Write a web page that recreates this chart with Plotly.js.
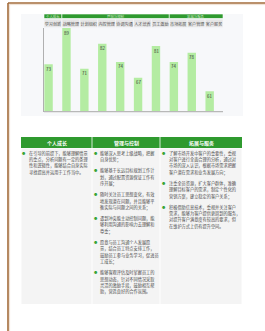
<!DOCTYPE html>
<html><head><meta charset="utf-8">
<script src="https://cdn.plot.ly/plotly-3.0.1.min.js"></script>
<style>html,body{margin:0;padding:0;background:#fff;}#chart{width:265px;height:331px;}</style>
</head><body><div id="chart"></div>
<script>
// ---- data ----
const categories = ['学习创新','战略管理','计划组织','内控管理','协调沟通','人才培养','员工激励','市场拓展','客户管理','客户服务'];
const scores = [73, 89, 71, 82, 74, 67, 81, 74, 78, 61];
const groupNames = ['个人成长','管理与控制','拓展与服务'];
const groupFirst = [0, 1, 7];
const groupLast = [0, 6, 9];
const tableHeads = ['个人成长','管理与控制','拓展与服务'];
const col1Items = [
  ['在引导的前提下，能够理解情景','的重点，分析问题有一定的条理','性和逻辑性，能够结合自身实际','寻找提高并运用于工作当中。']
];
const col2Items = [
  ['能够深入思考上级战略，把握','自身优势；'],
  ['能够基于长远目标规划工作计','划，通过配置资源保证工作有','序开展；'],
  ['随时关注员工思想变化，有效','地发现潜在问题，并且能够平','衡实际与问题之间的关系；'],
  ['遇到冲突能主动控制问题，能','够利用沟通的影响力去理解和','尊重；'],
  ['愿意与员工沟通个人发展愿','景，结合员工特点安排工作，','鼓励员工参与业务学习，促进员','工成长；'],
  ['能够客观评估及时掌握员工的','思想动态，针对不同情况采取','灵活的激励手段，鼓励相互帮','助，营造良好的合作氛围。']
];
const col3Items = [
  ['了解市场开发中客户的重要性，重视','对客户进行全面合理的分析，通过对','市场的深入认识，根据市场需求把握','客户潜在需求和业务发展方向；'],
  ['注重全员资源，扩大客户群体，准确','理解目标客户的需求，制定个性化的','营销方案，建立稳定的客户关系；'],
  ['积极借助信息技术，重视并关注客户','需求，能够为客户提供更周到的服务，','对提升客户满意度有较高的要求，但','在维护方式上仍有提升空间。']
];

// ---- layout helpers ----
const W = 265, H = 331;
const FONT = 'Noto Sans CJK SC, Noto Sans, sans-serif';
const px = x => x / W;
const py = y => 1 - y / H;
const D0 = 44, D1 = 223;
const slot = k => D0 + (k + 0.5) / categories.length * (D1 - D0);
const GREEN = '#2f9a2f';

const shapes = [];
const annotations = [];
function rect(x0, y0, x1, y1, fill, line, lw, layer) {
  shapes.push({type:'rect', xref:'paper', yref:'paper', x0:px(x0), x1:px(x1), y0:py(y1), y1:py(y0),
    fillcolor:fill, line:{color:line||fill, width:lw||0}, layer:layer||'below'});
}
function hline(x0, x1, y, color, w, layer) {
  shapes.push({type:'line', xref:'paper', yref:'paper', x0:px(x0), x1:px(x1), y0:py(y), y1:py(y), line:{color:color, width:w}, layer:layer||'above'});
}
function vline(x, y0, y1, color, w, layer) {
  shapes.push({type:'line', xref:'paper', yref:'paper', x0:px(x), x1:px(x), y0:py(y0), y1:py(y1), line:{color:color, width:w}, layer:layer||'above'});
}
function label(text, x, y, size, color, xanchor, bold) {
  annotations.push({xref:'paper', yref:'paper', x:px(x), y:py(y), text: bold ? '<b>'+text+'</b>' : text,
    showarrow:false, xanchor:xanchor||'center', yanchor:'middle', borderpad:0,
    font:{family:FONT, size:size, color:color}});
}

// frame
vline(8, 3, 331, '#a36b3a', 1.6);
hline(8, 265, 3, '#a36b3a', 1.6);
hline(9, 265, 4.6, '#ead8c6', 0.8);
vline(9.6, 4.6, 331, '#ead8c6', 0.8);

// chart panel
rect(21, 14, 243, 116, '#f7f8fa');
// group header
for (let g = 0; g < groupNames.length; g++) {
  const x0 = slot(groupFirst[g] - 0.5), x1 = slot(groupLast[g] + 0.5);
  rect(x0, 14, x1, 18.6, GREEN, '#ffffff', 0.6);
  label(groupNames[g], (x0 + x1) / 2, 16, 3.4, '#cfe6c8');
}
// category row cells
for (let i = 0; i < categories.length; i++) {
  rect(slot(i - 0.5), 19, slot(i + 0.5), 27.6, '#e6e6e6', '#f7f8fa', 0.7);
}
// baseline
hline(D0, D1, 111.6, '#b8b8b8', 1.2);

// bar value labels, placed through the axes
categories.forEach((c, i) => {
  annotations.push({xref:'x', yref:'y', x:c, y:scores[i], text:String(scores[i]),
    showarrow:false, xanchor:'center', yanchor:'top', xshift:-4.3, yshift:-0.6, borderpad:0,
    font:{family:FONT, size:4.4, color:'#333333'}});
});

// table
const colX = [21, 92, 160, 242];
rect(21, 137, 242, 148, GREEN);
for (let c = 0; c < 3; c++) {
  rect(colX[c] + 0.5, 148.6, colX[c + 1] - 0.5, 304, '#f4f4f4');
  label(tableHeads[c], (colX[c] + colX[c + 1]) / 2, 142.6, 5, '#ffffff', 'center', true);
}
vline(92, 137, 148, '#ffffff', 0.8);
vline(160, 137, 148, '#ffffff', 0.8);

const LINE_H = 6.3, GAP = 5, START = 153.2;
const cols = [col1Items, col2Items, col3Items];
const bulletX = [24.4, 96, 164.4];
for (let c = 0; c < 3; c++) {
  let y = START;
  cols[c].forEach((item, k) => {
    if (k > 0) y += GAP;
    label('●', bulletX[c], y, 3.3, '#36a336', 'center');
    item.forEach(ln => {
      label(ln, bulletX[c] + 3.4, y, 4.2, '#4a4a4a', 'left');
      y += LINE_H;
    });
  });
}

const trace = {
  type:'bar', x: categories, y: scores,
  width: 0.47, offset: -0.48,
  marker:{color:'#b4eca2', line:{width:0}},
  hoverinfo:'none'
};

const layout = {
  width:W, height:H, margin:{l:0, r:0, t:0, b:0},
  paper_bgcolor:'#ffffff', plot_bgcolor:'rgba(0,0,0,0)',
  showlegend:false,
  xaxis:{domain:[px(D0), px(D1)], range:[-0.5, 9.5], type:'category', side:'top',
    showgrid:false, zeroline:false, showline:false, ticks:'', tickangle:0,
    tickfont:{family:FONT, size:4.1, color:'#555555'}, fixedrange:true},
  yaxis:{domain:[py(111.6), py(28)], range:[52, 89], showgrid:false, zeroline:false,
    showticklabels:false, showline:true, linecolor:'#b0b0b0', linewidth:1, ticks:'', fixedrange:true},
  shapes: shapes, annotations: annotations,
  font:{family:FONT}
};
Plotly.newPlot('chart', [trace], layout, {displayModeBar:false, staticPlot:true});
</script>
</body></html>
